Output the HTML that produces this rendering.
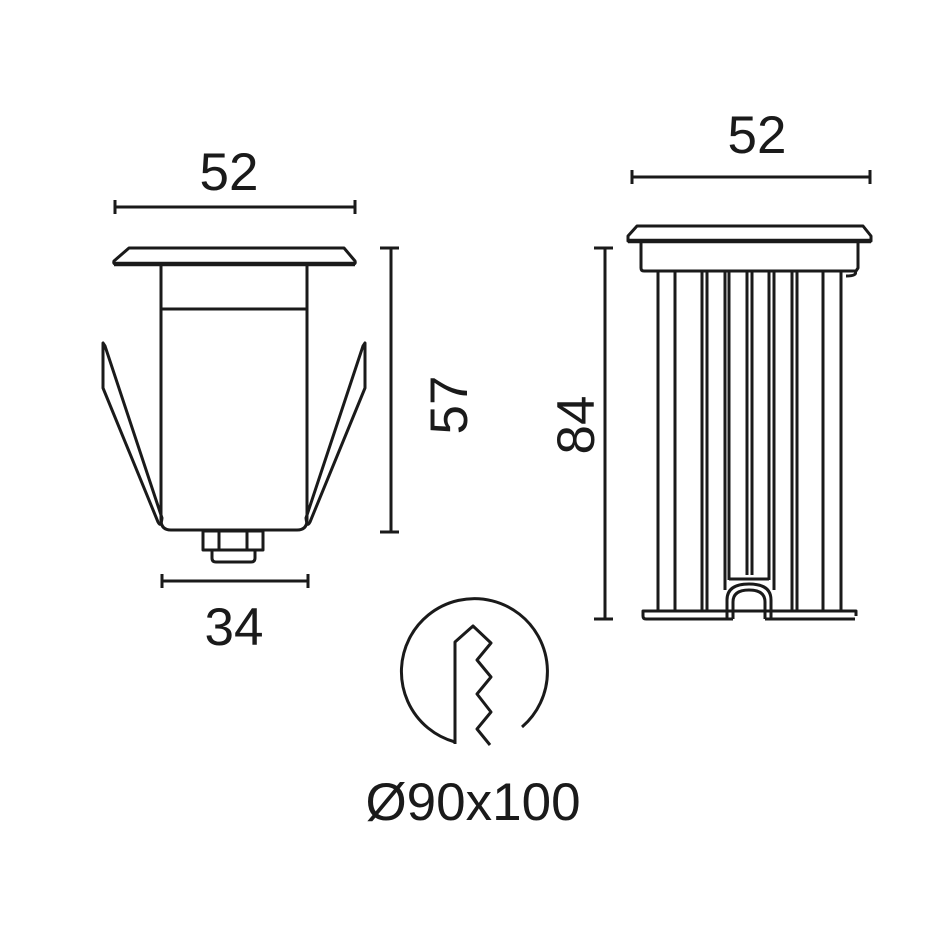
<!DOCTYPE html>
<html><head><style>html,body{margin:0;padding:0;background:#fff}svg{display:block}</style></head>
<body>
<svg width="936" height="935" viewBox="0 0 936 935" xmlns="http://www.w3.org/2000/svg" fill="none" stroke="#1a1a1a" stroke-width="3" stroke-linejoin="round">
<g font-family="Liberation Sans, Arial, sans-serif" font-size="53" fill="#1a1a1a" stroke="none" text-anchor="middle">
<text x="229" y="190">52</text>
<text x="234" y="645">34</text>
<text x="757" y="153">52</text>
<text transform="translate(467,405) rotate(-90)">57</text>
<text transform="translate(594,425) rotate(-90)">84</text>
<text x="473" y="820">Ø90x100</text>
</g>
<!-- left dims -->
<line x1="115" y1="207" x2="355" y2="207"/><line x1="115" y1="200" x2="115" y2="214"/><line x1="355" y1="200" x2="355" y2="214"/>
<line x1="391" y1="248" x2="391" y2="532"/><line x1="380" y1="248" x2="399" y2="248"/><line x1="380" y1="532" x2="399" y2="532"/>
<line x1="162" y1="581" x2="308" y2="581"/><line x1="162" y1="574" x2="162" y2="588"/><line x1="308" y1="574" x2="308" y2="588"/>
<!-- left body -->
<path d="M129 248 L344 248 L355 261 Q356 264 353 264 L116 264 Q113 264 114 261 Z"/>
<line x1="114" y1="264" x2="355" y2="264" stroke-width="4.5"/>
<path d="M161 264 L161 520 Q161 530 171 530 L297 530 Q307 530 307 520 L307 264"/>
<line x1="161" y1="309" x2="307" y2="309"/>
<path d="M103 343 L103 388 L158 522 Q161 528 162 518 L105 346 Z"/>
<path d="M365 343 L365 388 L310 522 Q307 528 306 518 L363 346 Z"/>
<rect x="203" y="531" width="60" height="19"/>
<line x1="219" y1="531" x2="219" y2="550"/><line x1="247" y1="531" x2="247" y2="550"/>
<path d="M212 550 L212 558 Q212 562 216 562 L251 562 Q255 562 255 558 L255 550"/>
<!-- right dims -->
<line x1="632" y1="177" x2="870" y2="177"/><line x1="632" y1="170" x2="632" y2="184"/><line x1="870" y1="170" x2="870" y2="184"/>
<line x1="605" y1="248" x2="605" y2="619"/><line x1="594" y1="248" x2="613" y2="248"/><line x1="594" y1="619" x2="613" y2="619"/>
<!-- right body -->
<path d="M637 226 L863 226 L871 236 L871 241 L628 241 L628 236 Z"/>
<line x1="628" y1="241" x2="871" y2="241" stroke-width="4.5"/>
<path d="M641 242 L641 268 Q641 271 644 271 L856 271 L858 268 L858 242"/>
<path d="M855 271 Q858 276 846 276"/>
<g>
<line x1="658" y1="271" x2="658" y2="610"/><line x1="675" y1="271" x2="675" y2="610"/>
<line x1="702" y1="271" x2="702" y2="610"/><line x1="707" y1="271" x2="707" y2="610"/>
<line x1="725" y1="271" x2="725" y2="590"/><line x1="729" y1="271" x2="729" y2="580"/>
<line x1="747" y1="271" x2="747" y2="575"/><line x1="752" y1="271" x2="752" y2="575"/>
<line x1="769" y1="271" x2="769" y2="580"/><line x1="774" y1="271" x2="774" y2="590"/>
<line x1="792" y1="271" x2="792" y2="610"/><line x1="797" y1="271" x2="797" y2="610"/>
<line x1="823" y1="271" x2="823" y2="610"/><line x1="841" y1="271" x2="841" y2="610"/>
</g>
<path d="M729 579 L769 579"/>
<path d="M727 619 L727 600 Q727 584 749 584 Q771 584 771 600 L771 619"/>
<path d="M733 619 L733 602 Q733 590 749 590 Q765 590 765 602 L765 619"/>
<path d="M733 619 L646 619 Q643 619 643 616 L643 611 L856 611 L856 616"/>
<path d="M765 619 L855 619"/>
<!-- circle icon -->
<path d="M455 742 A73 73 0 1 1 522 727"/>
<path d="M455 744 L455 642 L473 626 L491 643 L477 660 L491 677 L477 694 L491 712 L477 729 L490 745"/>
</svg>
</body></html>
